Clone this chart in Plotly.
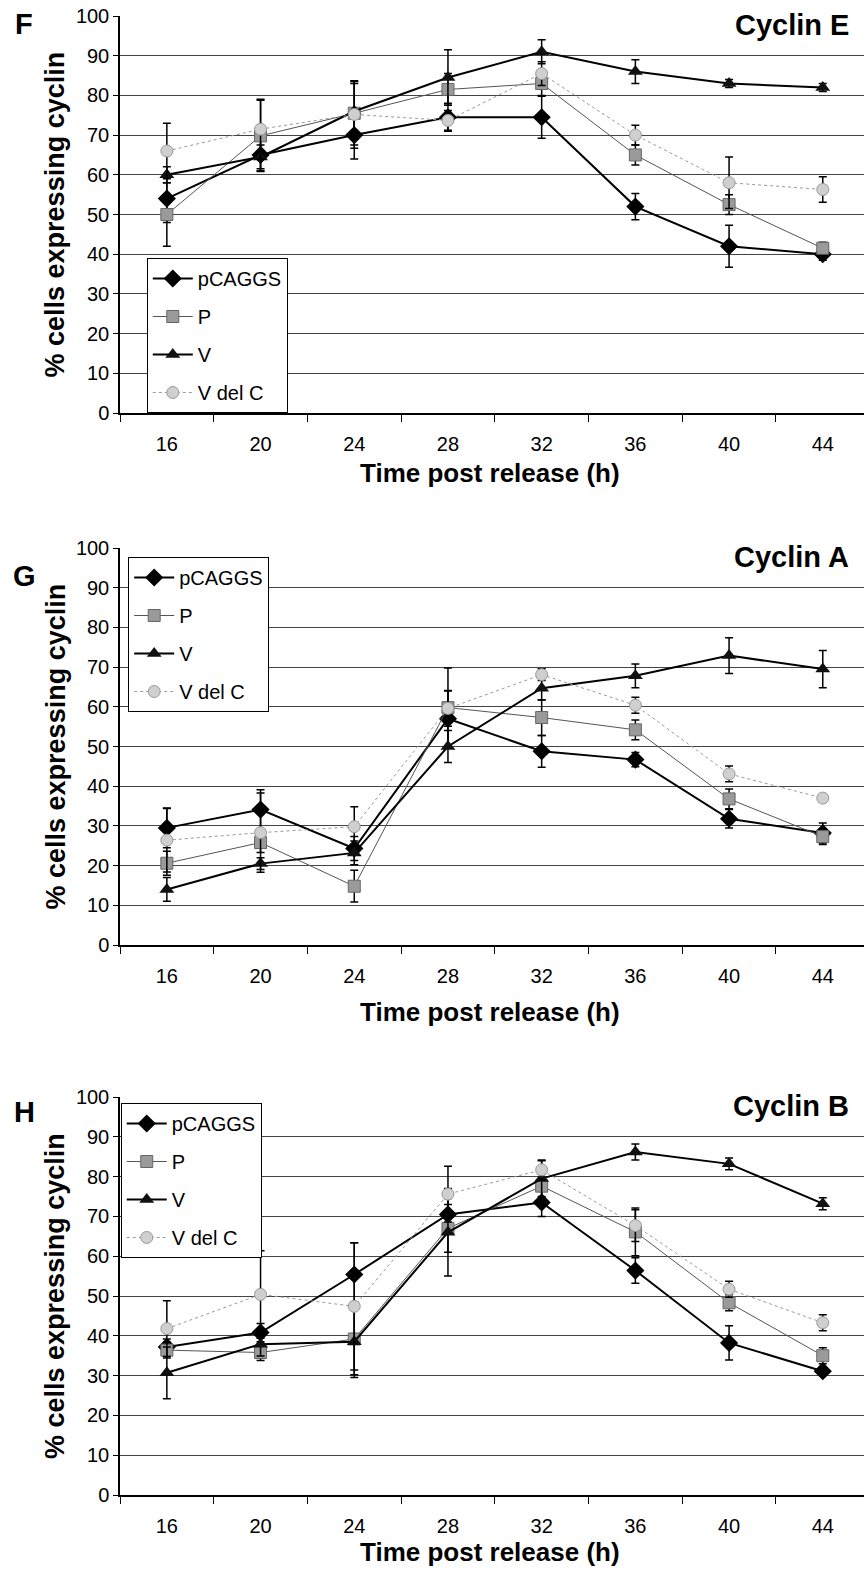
import plotly.graph_objects as go

hours = ["16", "20", "24", "28", "32", "36", "40", "44"]
series_names = ["pCAGGS", "P", "V", "V del C"]

# Cyclin E (panel F)
E_pcaggs = [54, 65, 70, 74.5, 74.5, 52, 42, 40]
E_pcaggs_err = [6, 4, 6, 3.5, 5.3, 3.3, 5.3, 1.5]
E_p = [50, 69.8, 75.5, 81.5, 83, 65, 52.5, 41.5]
E_p_err = [8, 9, 8, 4, 3, 2.5, 2.5, 1.5]
E_v = [60, 64.5, 76, 84.5, 91, 86, 83, 82]
E_v_err = [2, 3, 7, 7, 3, 3, 1, 1]
E_vdc = [66, 71.5, 75.2, 73.7, 85.5, 70, 58, 56.3]
E_vdc_err = [7, 7.5, 8.5, 2.5, 3, 2.5, 6.5, 3.2]

# Cyclin A (panel G)
A_pcaggs = [29.5, 34.1, 24.3, 57, 48.8, 46.7, 31.8, 28.2]
A_pcaggs_err = [5, 5, 3, 7, 4, 1.8, 2.3, 2.5]
A_p = [20.6, 25.8, 14.8, 59.8, 57.3, 54.2, 36.8, 27.3]
A_p_err = [3, 2.5, 4, 10, 4.5, 2.5, 2.5, 2]
A_v = [14, 20.5, 23.2, 50, 64.7, 67.8, 72.9, 69.5]
A_v_err = [3, 1.5, 3, 4, 3, 3, 4.5, 4.7]
A_vdc = [26.4, 28.3, 29.8, 59.6, 68.1, 60.4, 43.1, 37]
A_vdc_err = [8, 10, 5, 4.5, 1.5, 2, 2, 1]

# Cyclin B (panel H)
B_pcaggs = [37.2, 40.8, 55.4, 70.5, 73.5, 56.4, 38.2, 31.1]
B_pcaggs_err = [2, 2.3, 8, 4, 3.5, 3.2, 4.3, 1]
B_p = [36.4, 35.8, 39.2, 67, 77.6, 66.1, 48.3, 35]
B_p_err = [2, 2, 9, 6, 3, 6, 2, 2]
B_v = [30.7, 37.9, 38.5, 66, 79.5, 86.2, 83.2, 73.2]
B_v_err = [6.5, 3, 9, 11, 4.5, 2, 1.5, 1.5]
B_vdc = [41.8, 50.4, 47.4, 75.6, 81.7, 67.7, 51.7, 43.3]
B_vdc_err = [7, 11, 16, 7, 2.5, 4, 2, 2]

panels = [
    ("F", "Cyclin E", [(E_pcaggs, E_pcaggs_err), (E_p, E_p_err), (E_v, E_v_err), (E_vdc, E_vdc_err)]),
    ("G", "Cyclin A", [(A_pcaggs, A_pcaggs_err), (A_p, A_p_err), (A_v, A_v_err), (A_vdc, A_vdc_err)]),
    ("H", "Cyclin B", [(B_pcaggs, B_pcaggs_err), (B_p, B_p_err), (B_v, B_v_err), (B_vdc, B_vdc_err)]),
]

styles = [
    dict(line=dict(color="black", width=2), marker=dict(symbol="diamond", size=14, color="black")),
    dict(line=dict(color="#555555", width=1), marker=dict(symbol="square", size=12, color="#9a9a9a", line=dict(color="#666666", width=1))),
    dict(line=dict(color="black", width=2), marker=dict(symbol="triangle-up", size=13, color="#111111")),
    dict(line=dict(color="#9a9a9a", width=1, dash="dot"), marker=dict(symbol="circle", size=12, color="#cfcfcf", line=dict(color="#999999", width=1))),
]

H_FIG = 1570
T, B = 16, 75
inner = H_FIG - T - B
pix = [(16, 413), (548, 945), (1097, 1495)]
def py(p):
    return (H_FIG - B - p) / inner

fig = go.Figure()
sans = "Liberation Sans, Arial, sans-serif"

legend_pos = [
    dict(x=0.036, y=py(413), yanchor="bottom"),
    dict(x=0.011, y=py(557), yanchor="top"),
    dict(x=0.001, y=py(1103), yanchor="top"),
]
group_gaps = [9, 9, 9]

for i, (letter, title, data) in enumerate(panels):
    xa = "x" if i == 0 else f"x{i+1}"
    ya = "y" if i == 0 else f"y{i+1}"
    lg = "legend" if i == 0 else f"legend{i+1}"
    for j, (vals, errs) in enumerate(data):
        fig.add_trace(go.Scatter(
            x=hours, y=vals, name=series_names[j], mode="lines+markers",
            xaxis=xa, yaxis=ya, legend=lg, legendgroup=f"{letter}{j}",
            error_y=dict(type="data", array=errs, visible=True, color="black", thickness=1.5, width=4),
            **styles[j]))
    top, bot = pix[i]
    dom = [py(bot), py(top)]
    axkey = "" if i == 0 else str(i + 1)
    fig.layout["xaxis" + axkey] = dict(
        type="category", range=[-0.5, 7.44], domain=[0, 1], anchor=ya,
        showline=True, linecolor="black", linewidth=1.5,
        ticks="outside", tickson="boundaries", ticklen=7, tickcolor="black",
        ticklabelstandoff=12,
        tickfont=dict(family=sans, size=20, color="black"), showgrid=False)
    fig.layout["yaxis" + axkey] = dict(
        range=[0, 100], domain=dom, anchor=xa, dtick=10,
        showline=True, linecolor="black", linewidth=1.5,
        ticks="outside", ticklen=5, tickcolor="black",
        tickfont=dict(family=sans, size=20, color="black"),
        showgrid=True, gridcolor="#444444", gridwidth=1, zeroline=False)
    fig.layout[lg] = dict(
        **legend_pos[i], xanchor="left", xref="paper", yref="paper",
        bgcolor="white", bordercolor="black", borderwidth=1,
        font=dict(family=sans, size=20, color="black"),
        itemwidth=40, tracegroupgap=group_gaps[i], traceorder="grouped")

ann = []
letter_y = [24, 576, 1112]
xtitle_y = [473, 1012, 1552]
for i, (letter, title, data) in enumerate(panels):
    top, bot = pix[i]
    ann.append(dict(x=(24 - 120) / 744, y=py(letter_y[i]), xref="paper", yref="paper",
                    text=f"<b>{letter}</b>", showarrow=False, xanchor="center", yanchor="middle",
                    font=dict(family=sans, size=29, color="black")))
    ann.append(dict(x=(851 - 120) / 744, y=py(top + 9), xref="paper", yref="paper",
                    text=f"<b>{title}</b>", showarrow=False, xanchor="right", yanchor="middle",
                    font=dict(family=sans, size=29, color="black")))
    ann.append(dict(x=(490 - 120) / 744, y=py(xtitle_y[i]), xref="paper", yref="paper",
                    text="<b>Time post release (h)</b>", showarrow=False, xanchor="center", yanchor="middle",
                    font=dict(family=sans, size=26, color="black")))
    ann.append(dict(x=(55 - 120) / 744, y=py((top + bot) / 2), xref="paper", yref="paper",
                    text="<b>% cells expressing cyclin</b>", showarrow=False, textangle=-90,
                    xanchor="center", yanchor="middle",
                    font=dict(family=sans, size=27, color="black")))
fig.layout.annotations = ann

fig.update_layout(
    width=864, height=H_FIG, margin=dict(l=120, r=0, t=T, b=B),
    paper_bgcolor="white", plot_bgcolor="white", showlegend=True,
)

fig.write_html("out.html")
